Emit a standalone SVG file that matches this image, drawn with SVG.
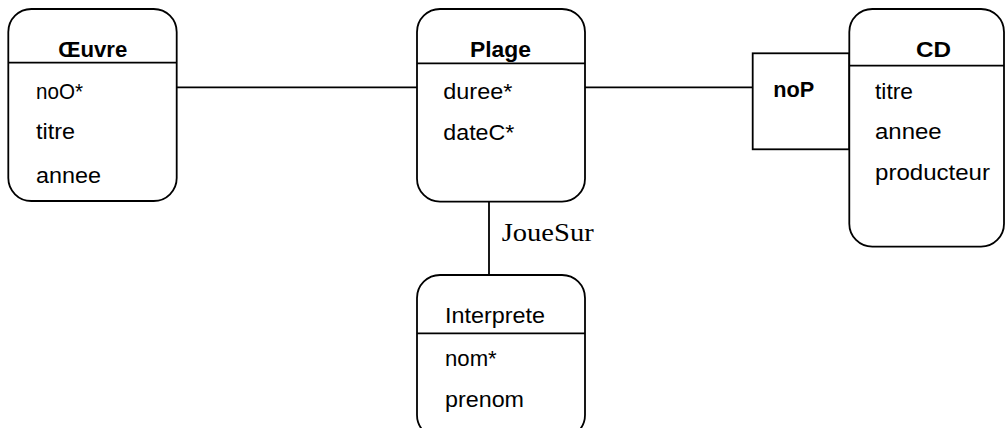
<svg xmlns="http://www.w3.org/2000/svg" width="1005" height="428" viewBox="0 0 1005 428">
  <style>
    .box { fill: #ffffff; stroke: #000000; stroke-width: 1.8; }
    .sep, .link { fill: none; stroke: #000000; stroke-width: 1.8; }
    .title { font-family: "Liberation Sans", Arial, sans-serif; font-size: 22.5px; font-weight: bold; fill: #000000; }
    .attr { font-family: "Liberation Sans", Arial, sans-serif; font-size: 22.5px; fill: #000000; }
    .label { font-family: "Liberation Serif", "Times New Roman", serif; font-size: 25px; fill: #000000; }
  </style>
  <rect x="0" y="0" width="1005" height="428" fill="#ffffff"/>

  <!-- connectors -->
  <g id="connectors">
    <line class="link" x1="176.7" y1="87.3" x2="417" y2="87.3"/>
    <line class="link" x1="585" y1="87.3" x2="752.7" y2="87.3"/>
    <line class="link" x1="489" y1="201.7" x2="489" y2="275"/>
    <text class="label" x="501.7" y="240.7" textLength="92" lengthAdjust="spacingAndGlyphs">JoueSur</text>
  </g>

  <!-- entity: Oeuvre -->
  <g id="oeuvre">
    <rect class="box" x="8.3" y="9" width="168.4" height="192" rx="23" ry="23"/>
    <line class="sep" x1="8.3" y1="62.7" x2="176.7" y2="62.7"/>
    <text class="title" x="58.3" y="57.3" textLength="69" lengthAdjust="spacingAndGlyphs">Œuvre</text>
    <text class="attr" x="36" y="98.5" textLength="47" lengthAdjust="spacingAndGlyphs">noO*</text>
    <text class="attr" x="36" y="139" textLength="39" lengthAdjust="spacingAndGlyphs">titre</text>
    <text class="attr" x="36" y="182.5" textLength="65" lengthAdjust="spacingAndGlyphs">annee</text>
  </g>

  <!-- entity: Plage -->
  <g id="plage">
    <rect class="box" x="417" y="9" width="168" height="192.7" rx="23" ry="23"/>
    <line class="sep" x1="417" y1="63.3" x2="585" y2="63.3"/>
    <text class="title" x="470" y="57" textLength="61" lengthAdjust="spacingAndGlyphs">Plage</text>
    <text class="attr" x="443.3" y="99" textLength="69" lengthAdjust="spacingAndGlyphs">duree*</text>
    <text class="attr" x="443.3" y="140" textLength="71" lengthAdjust="spacingAndGlyphs">dateC*</text>
  </g>

  <!-- key box: noP -->
  <g id="noP">
    <rect class="box" x="752.7" y="53.3" width="96.6" height="96"/>
    <text class="title" x="773.3" y="97.3" textLength="41" lengthAdjust="spacingAndGlyphs">noP</text>
  </g>

  <!-- entity: CD -->
  <g id="cd">
    <rect class="box" x="849.3" y="9" width="154.7" height="237.7" rx="23" ry="23"/>
    <line class="sep" x1="849.3" y1="65.7" x2="1004" y2="65.7"/>
    <text class="title" x="916" y="56.7" textLength="35" lengthAdjust="spacingAndGlyphs">CD</text>
    <text class="attr" x="875" y="99" textLength="38" lengthAdjust="spacingAndGlyphs">titre</text>
    <text class="attr" x="875" y="139.3" textLength="66.7" lengthAdjust="spacingAndGlyphs">annee</text>
    <text class="attr" x="875" y="180" textLength="115" lengthAdjust="spacingAndGlyphs">producteur</text>
  </g>

  <!-- entity: Interprete -->
  <g id="interprete">
    <rect class="box" x="417" y="275" width="168" height="163" rx="23" ry="23"/>
    <line class="sep" x1="417" y1="333.3" x2="585" y2="333.3"/>
    <text class="attr" x="445" y="323.3" textLength="100" lengthAdjust="spacingAndGlyphs">Interprete</text>
    <text class="attr" x="445" y="365.5" textLength="51.7" lengthAdjust="spacingAndGlyphs">nom*</text>
    <text class="attr" x="445" y="406.5" textLength="79" lengthAdjust="spacingAndGlyphs">prenom</text>
  </g>
</svg>
